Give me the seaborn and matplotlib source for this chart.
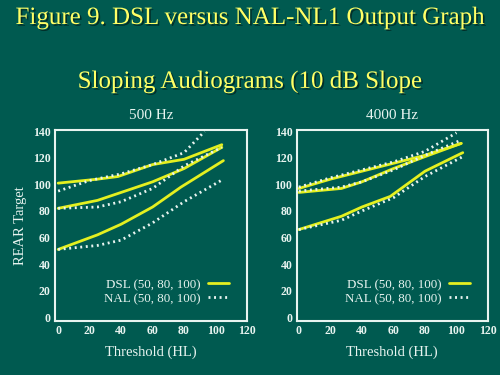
import matplotlib
matplotlib.use("Agg")
import matplotlib.pyplot as plt
import matplotlib.patheffects as pe
from matplotlib.lines import Line2D
import seaborn as sns
import pandas as pd

# ---- data ----
panels = ["500 Hz", "4000 Hz"]

# 500 Hz
dsl50_500_x = [0, 25, 40, 60, 78, 105]
dsl50_500_y = [51, 62, 70, 83, 98, 118]
dsl80_500_x = [0, 25, 40, 60, 80, 104]
dsl80_500_y = [82, 88, 94, 102, 112, 128]
dsl100_500_x = [0, 25, 38, 60, 80, 104]
dsl100_500_y = [101, 104, 106, 115, 119, 130]
nal50_500_x = [0, 25, 40, 60, 80, 105]
nal50_500_y = [51, 54, 58, 71, 87, 104]
nal80_500_x = [0, 25, 40, 60, 80, 104]
nal80_500_y = [82, 83, 87, 97, 114, 128]
nal100_500_x = [0, 20, 40, 60, 80, 93]
nal100_500_y = [95, 103, 108, 115, 124, 140]

# 4000 Hz
dsl50_4k_x = [0, 27, 40, 58, 80, 104]
dsl50_4k_y = [66, 76, 83, 91, 110, 124]
dsl80_4k_x = [0, 27, 40, 60, 80, 103]
dsl80_4k_y = [94, 97, 102, 112, 121, 131]
dsl100_4k_x = [0, 20, 40, 60, 80, 103]
dsl100_4k_y = [97, 104, 110, 116, 122, 131]
nal50_4k_x = [0, 27, 40, 60, 80, 104]
nal50_4k_y = [66, 73, 80, 90, 106, 121]
nal80_4k_x = [0, 27, 40, 60, 80, 102]
nal80_4k_y = [95, 98, 102, 111, 122, 133]
nal100_4k_x = [0, 20, 40, 60, 80, 100]
nal100_4k_y = [98, 105, 111, 117, 125, 139]

legend_labels = ["DSL (50, 80, 100)", "NAL (50, 80, 100)"]
x_ticks = [0, 20, 40, 60, 80, 100, 120]
y_ticks = [0, 20, 40, 60, 80, 100, 120, 140]

title1 = "Figure 9. DSL versus NAL-NL1 Output Graph"
title2 = "Sloping Audiograms (10 dB Slope"

# ---- style ----
BG = "#005a50"
YEL = "#e4f020"
WHITE = "#e8f4f0"
TITLE_YEL = "#ffff66"

sns.set_style("ticks")
plt.rcParams["font.family"] = ["Liberation Serif", "DejaVu Serif"]

fig = plt.figure(figsize=(5, 3.75), dpi=100, facecolor=BG)

shadow = [pe.withSimplePatchShadow(offset=(1.2, -1.2), shadow_rgbFace="#002a25", alpha=0.9)]
fig.text(0.5, 0.952, title1, ha="center", va="center", fontsize=18,
         color=TITLE_YEL, path_effects=shadow)
fig.text(0.5, 0.782, title2, ha="center", va="center", fontsize=18,
         color=TITLE_YEL, path_effects=shadow)

curves = {
    "500 Hz": [
        ("DSL", dsl50_500_x, dsl50_500_y), ("DSL", dsl80_500_x, dsl80_500_y),
        ("DSL", dsl100_500_x, dsl100_500_y),
        ("NAL", nal50_500_x, nal50_500_y), ("NAL", nal80_500_x, nal80_500_y),
        ("NAL", nal100_500_x, nal100_500_y),
    ],
    "4000 Hz": [
        ("DSL", dsl50_4k_x, dsl50_4k_y), ("DSL", dsl80_4k_x, dsl80_4k_y),
        ("DSL", dsl100_4k_x, dsl100_4k_y),
        ("NAL", nal50_4k_x, nal50_4k_y), ("NAL", nal80_4k_x, nal80_4k_y),
        ("NAL", nal100_4k_x, nal100_4k_y),
    ],
}

positions = {"500 Hz": [0.11, 0.144, 0.384, 0.509],
             "4000 Hz": [0.593, 0.144, 0.383, 0.509]}
xlims = {"500 Hz": (-2, 120), "4000 Hz": (-1.5, 120)}

dotted = (0, (0.7, 1.3))

for name in panels:
    ax = fig.add_axes(positions[name])
    ax.set_facecolor(BG)
    for kind, xs, ys in curves[name]:
        df = pd.DataFrame({"x": xs, "y": ys})
        if kind == "DSL":
            sns.lineplot(data=df, x="x", y="y", ax=ax, color=YEL, lw=2,
                         estimator=None, sort=False)
        else:
            sns.lineplot(data=df, x="x", y="y", ax=ax, color=WHITE, lw=2,
                         estimator=None, sort=False, linestyle=dotted)
    ax.set_xlim(*xlims[name])
    ax.set_ylim(-3, 141)
    ax.set_xticks(x_ticks)
    ax.set_yticks(y_ticks)
    ax.tick_params(length=0, colors=WHITE, labelsize=8.5, pad=3)
    for lab in ax.get_xticklabels() + ax.get_yticklabels():
        lab.set_fontweight("bold")
    for sp in ax.spines.values():
        sp.set_visible(True)
        sp.set_color(WHITE)
        sp.set_linewidth(1.5)
    ax.set_xlabel("Threshold (HL)", color=WHITE, fontsize=10.5, labelpad=6)
    ax.set_ylabel("REAR Target" if name == "500 Hz" else "", color=WHITE,
                  fontsize=10.5, labelpad=4)
    ax.set_title(name, color=WHITE, fontsize=11, pad=8)
    handles = [Line2D([], [], color=YEL, lw=2),
               Line2D([], [], color=WHITE, lw=2, linestyle=dotted)]
    ax.legend(handles, legend_labels, loc="lower right",
              bbox_to_anchor=(0.94, 0.05), frameon=False, markerfirst=False,
              fontsize=9.4, labelcolor=WHITE, handlelength=1.6,
              handletextpad=0.6, labelspacing=0.15, borderpad=0)

fig.savefig("out.png", dpi=100, facecolor=BG)
